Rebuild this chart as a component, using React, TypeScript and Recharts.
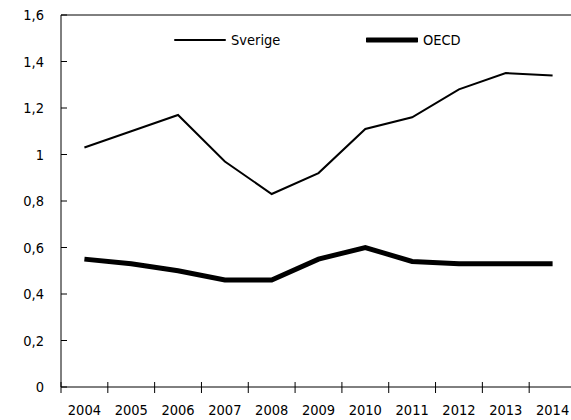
import { LineChart, Line, XAxis, YAxis, ReferenceLine } from "recharts";

const years = ["2004", "2005", "2006", "2007", "2008", "2009", "2010", "2011", "2012", "2013", "2014"];
const sverige = [1.03, 1.1, 1.17, 0.97, 0.83, 0.92, 1.11, 1.16, 1.28, 1.35, 1.34];
const oecd = [0.55, 0.53, 0.5, 0.46, 0.46, 0.55, 0.6, 0.54, 0.53, 0.53, 0.53];
const yTicks = [0, 0.2, 0.4, 0.6, 0.8, 1, 1.2, 1.4, 1.6];

const data = years.map((year, i) => ({ year, sverige: sverige[i], oecd: oecd[i] }));

const FONT = "'DejaVu Sans Condensed', 'DejaVu Sans', sans-serif";
const FS = 14.5;
const W = 590;
const H = 420;
const M = { top: 15, right: 14, bottom: 0, left: 0 };
const Y_W = 61;
const X_H = 33;
const BAND = (W - M.left - M.right - Y_W) / years.length;

const fmt = (v: number) => String(v).replace(".", ",");

function YTick({ x, y, payload }: any) {
  return (
    <g>
      <line x1={x} x2={x + 6} y1={y} y2={y} stroke="#000" strokeWidth={1} />
      <text x={x - 17} y={y + 5} textAnchor="end" fontSize={FS} fontFamily={FONT} fontStretch="condensed" fill="#000">
        {fmt(payload.value)}
      </text>
    </g>
  );
}

function XTick({ x, y, payload, index }: any) {
  const left = x - BAND / 2;
  return (
    <g>
      <line x1={left} x2={left} y1={y - 5} y2={y + 6} stroke="#000" strokeWidth={1} />
      {index === years.length - 1 && (
        <line x1={x + BAND / 2} x2={x + BAND / 2} y1={y - 5} y2={y + 6} stroke="#000" />
      )}
      <text x={x} y={y + 28} textAnchor="middle" fontSize={FS} fontFamily={FONT} fontStretch="condensed" fill="#000">
        {payload.value}
      </text>
    </g>
  );
}

function Legend() {
  const item = (left: number, width: number, label: string) => (
    <div style={{ position: "absolute", left, top: 30, display: "flex", alignItems: "center" }}>
      <svg width={52} height={20}>
        <line x1={1} x2={51} y1={10} y2={10} stroke="#000" strokeWidth={width} strokeLinecap="round" />
      </svg>
      <span style={{ fontFamily: FONT, fontStretch: "condensed", fontSize: FS, marginLeft: 5 }}>{label}</span>
    </div>
  );
  return (
    <>
      {item(174, 2, "Sverige")}
      {item(366, 5, "OECD")}
    </>
  );
}

export default function App() {
  return (
    <div
      style={{
        position: "fixed",
        left: 0,
        top: 0,
        width: 571,
        height: 420,
        overflow: "hidden",
        background: "#fff",
      }}
    >
      <LineChart width={W} height={H} data={data} margin={M}>
        <XAxis
          dataKey="year"
          scale="band"
          height={X_H}
          tickSize={0}
          tickMargin={0}
          tickLine={false}
          axisLine={{ stroke: "#000" }}
          tick={<XTick />}
          interval={0}
        />
        <YAxis
          width={Y_W}
          domain={[0, 1.6]}
          ticks={yTicks}
          tickSize={0}
          tickMargin={0}
          tickLine={false}
          axisLine={{ stroke: "#000" }}
          tick={<YTick />}
          interval={0}
        />
        <ReferenceLine y={1.6} stroke="#000" />
        <Line
          dataKey="sverige"
          stroke="#000"
          strokeWidth={2}
          dot={false}
          isAnimationActive={false}
        />
        <Line
          dataKey="oecd"
          stroke="#000"
          strokeWidth={5}
          dot={false}
          isAnimationActive={false}
        />
      </LineChart>
      <Legend />
    </div>
  );
}
